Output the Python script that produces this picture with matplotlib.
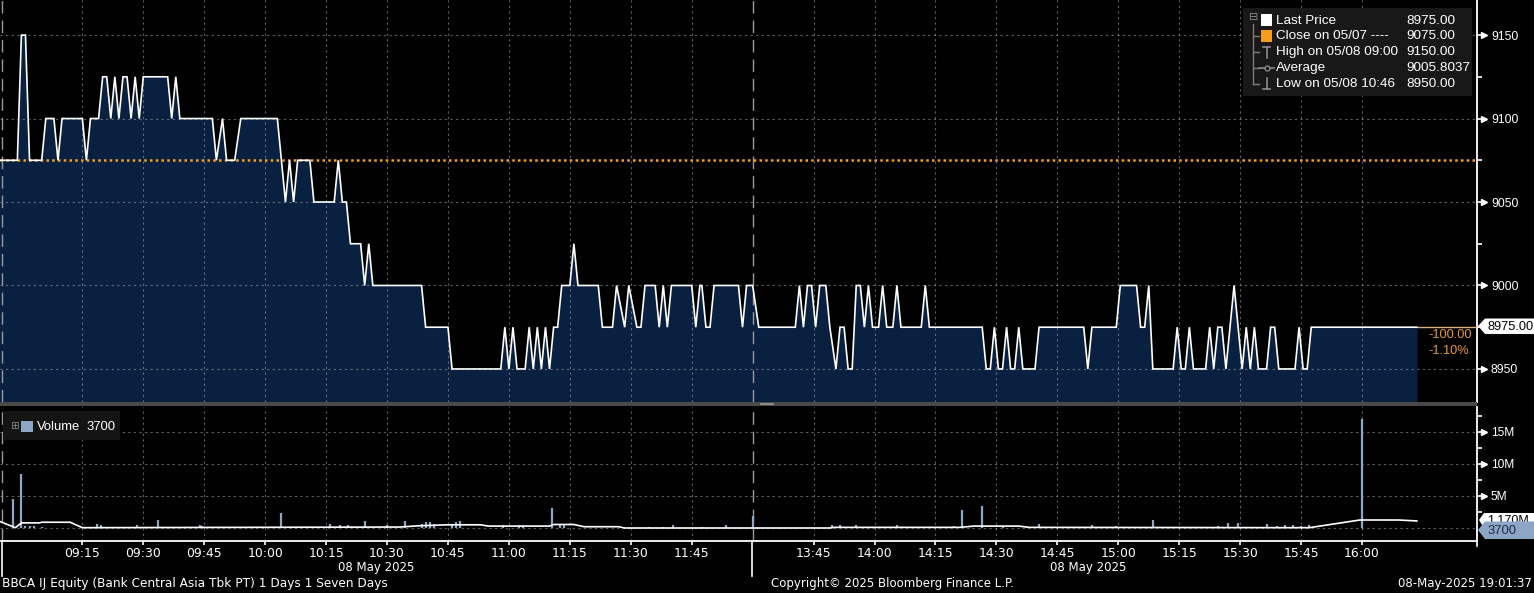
import matplotlib
matplotlib.use("Agg")
import matplotlib.pyplot as plt
from matplotlib import font_manager as fm
from matplotlib.patches import Rectangle, Polygon
from matplotlib.lines import Line2D
from matplotlib.transforms import blended_transform_factory as blend

W, H = 1534, 593

# ---------------- data (minutes of trading time after 09:00, lunch removed) ----------------
tick_minutes = [15, 30, 45, 60, 75, 90, 105, 120, 135, 150, 165,
                195, 210, 225, 240, 255, 270, 285, 300, 315, 330]
tick_labels = ["09:15", "09:30", "09:45", "10:00", "10:15", "10:30", "10:45",
               "11:00", "11:15", "11:30", "11:45",
               "13:45", "14:00", "14:15", "14:30", "14:45", "15:00", "15:15",
               "15:30", "15:45", "16:00"]
session_break = 180

price_t = [-6, -1, 0, 1, 2, 5, 6, 8, 9, 10, 15, 16, 17, 19, 20, 21, 22, 23, 24, 25,
           26, 27, 28, 29, 30, 36, 37, 38, 39, 47, 48, 49.5, 50.5, 52.5, 54, 63, 65, 66, 67, 68,
           71, 72, 77, 78, 79, 80, 81, 83.5, 84.5, 85.5, 86.5, 98.5, 99.5, 105, 106, 118, 119, 120, 121, 122,
           124, 125, 126, 127, 128, 129, 130, 131, 132, 133, 135, 136, 137, 142, 143, 145.5, 146.5, 148.5, 149.5, 151.5,
           152.5, 153.5, 156, 157, 158, 159, 160, 165, 166, 167, 167.5, 168.5, 169.5, 170.5, 176.5, 177.5, 178.5, 180,
           181.5, 190.5, 191.5, 192.5, 193.5, 194.5, 195.5, 196.5, 198, 199, 200.5, 201.5, 202.5, 203.5, 204.5, 205.5,
           206.5, 207.5, 208.5, 209.5, 211, 212, 213, 214.5, 215.5, 216.5, 221.5, 222.5, 223.5, 236.5, 237.5, 238.5,
           239.5, 240.5, 241.5, 242.5, 243.5, 244.5, 245.5, 246.5, 249.5, 250.5, 261.5, 262.5, 263.5, 269.5, 270.5, 274.5,
           275.5, 276.5, 277.5, 278.5, 283.5, 284.5, 285.5, 286.5, 287.5, 288.5, 291.5, 292.5, 293.5, 294.5, 295.5, 296.5,
           298.5, 300.5, 301.5, 302.5, 303.5, 304.5, 306.5, 307.5, 308.5, 309.5, 313.5, 314.5, 315.5, 316.5, 317.5, 343.5]
price_v = [9075, 9075, 9150, 9150, 9075, 9075, 9100, 9100, 9075, 9100, 9100, 9075, 9100, 9100, 9125, 9125, 9100, 9125, 9100, 9125,
           9125, 9100, 9125, 9100, 9125, 9125, 9100, 9125, 9100, 9100, 9075, 9100, 9075, 9075, 9100, 9100, 9050, 9075, 9050, 9075,
           9075, 9050, 9050, 9075, 9050, 9050, 9025, 9025, 9000, 9025, 9000, 9000, 8975, 8975, 8950, 8950, 8975, 8950, 8975, 8950,
           8950, 8975, 8950, 8975, 8950, 8975, 8950, 8975, 8975, 9000, 9000, 9025, 9000, 9000, 8975, 8975, 9000, 8975, 9000, 8975,
           8975, 9000, 9000, 8975, 9000, 8975, 9000, 9000, 8975, 9000, 9000, 8975, 8975, 9000, 9000, 8975, 9000, 9000,
           8975, 8975, 9000, 8975, 9000, 9000, 8975, 9000, 9000, 8975, 8950, 8975, 8975, 8950, 8950, 9000,
           9000, 8975, 9000, 8975, 8975, 9000, 8975, 8975, 9000, 8975, 8975, 9000, 8975, 8975, 8950, 8950,
           8975, 8950, 8950, 8975, 8950, 8950, 8975, 8950, 8950, 8975, 8975, 8950, 8975, 8975, 9000, 9000,
           8975, 8975, 9000, 8950, 8950, 8975, 8950, 8950, 8975, 8950, 8950, 8975, 8950, 8975, 8975, 8950,
           9000, 8950, 8975, 8950, 8975, 8950, 8950, 8975, 8975, 8950, 8950, 8975, 8950, 8950, 8975, 8975]

prev_close = 9075
last_price = 8975
price_ticks = [8950, 9000, 9050, 9100, 9150]
price_minor = [8975, 9025, 9075, 9125]

vol_t = [-2, 0, 1, 2, 3, 5, 18.5, 19.5, 28.5, 33.5, 39, 44, 44.5, 64, 76, 78.5, 80.5, 84.5, 90, 94.5,
         98.5, 99.5, 100.5, 101.5, 106, 107, 108, 118.5, 122.5, 123.5, 130.5, 132.5, 133.5, 154.5, 158, 160.5,
         167.5, 173.5, 180, 199.5, 201.5, 205.5, 215.5, 229.5, 231.5, 236.5, 241.5, 250.5, 263.5, 265.5, 269.5,
         278.5, 280.5, 294.5, 297, 299.5, 306.5, 309, 311, 313, 315, 317, 330]
vol_m = [4.6, 8.4, 0.3, 0.3, 0.3, 0.2, 0.6, 0.5, 0.4, 1.3, 0.2, 0.4, 0.3, 2.4, 0.7, 0.5, 0.4, 1.1, 0.4, 1.1,
         0.6, 1.0, 1.0, 0.7, 0.6, 0.9, 1.1, 0.4, 0.5, 0.5, 3.1, 0.4, 0.4, 0.2, 0.2, 0.4,
         0.15, 0.5, 1.8, 0.5, 0.5, 0.5, 0.4, 0.35, 2.8, 3.4, 0.2, 0.6, 0.4, 0.2, 0.3,
         1.25, 0.2, 0.3, 0.8, 0.8, 0.7, 0.3, 0.4, 0.4, 0.3, 0.4, 17.1]
vol_avg_t = [-6, -1.5, 0, 4.5, 5, 12, 15, 93, 98, 105, 113, 115, 130, 131, 136, 138.5, 147, 148.5,
             199, 200, 231, 234.5, 245.5, 248, 317, 329.5, 339, 343.5]
vol_avg_m = [1.2, 0.05, 0.8, 0.8, 0.9, 0.9, 0.05, 0.15, 0.35, 0.5, 0.5, 0.3, 0.3, 0.55, 0.55, 0.2, 0.2, 0.0,
             0.0, 0.1, 0.1, 0.3, 0.3, 0.1, 0.05, 1.25, 1.25, 1.1]
vol_ticks = [0, 5, 10, 15]
vol_tick_labels = ["", "5M", "10M", "15M"]
vol_minor = [2.5, 7.5, 12.5, 17.5]

legend_labels = ["Last Price", "Close on 05/07 ----", "High on 05/08 09:00", "Average", "Low on 05/08 10:46"]
legend_values = ["8975.00", "9075.00", "9150.00", "9005.8037", "8950.00"]

# ---------------- fonts ----------------
avail = {f.name for f in fm.fontManager.ttflist}
NARROW = "Liberation Sans Narrow" if "Liberation Sans Narrow" in avail else "DejaVu Sans"
NSCALE = 1.0 if NARROW == "Liberation Sans Narrow" else 0.74
REG = "Liberation Sans" if "Liberation Sans" in avail else "DejaVu Sans"
RSCALE = 1.0 if REG == "Liberation Sans" else 0.9

# ---------------- colours ----------------
BG = "#000000"
FILL = "#0a2040"
ORANGE = "#f5a025"
GRID = "#a0a0a0"
VOLC = "#8ea6c6"

XMIN, XMAX = -5.27, 358.3
PY0, PY1 = 8930.2, 9171.0
VY0, VY1 = -2.03, 18.9

fig = plt.figure(figsize=(W / 100, H / 100), dpi=100, facecolor=BG)


def fx(x):
    return x / W


def fy(y):
    return 1 - y / H


def ftext(x, y, s, **kw):
    kw.setdefault("color", "white")
    kw.setdefault("va", "center")
    return fig.text(fx(x), fy(y), s, **kw)


def frect(x0, y0, x1, y1, **kw):
    r = Rectangle((fx(x0), fy(y1)), (x1 - x0) / W, (y1 - y0) / H, transform=fig.transFigure, **kw)
    fig.add_artist(r)
    return r


def fline(xs, ys, **kw):
    fig.add_artist(Line2D([fx(x) for x in xs], [fy(y) for y in ys], transform=fig.transFigure, **kw))


def fpoly(pts, **kw):
    p = Polygon([(fx(x), fy(y)) for x, y in pts], closed=True, transform=fig.transFigure, **kw)
    fig.add_artist(p)
    return p


axp = fig.add_axes([0, fy(402), 1477 / W, 402 / H])
axv = fig.add_axes([0, fy(541), 1477 / W, (541 - 407) / H])

for ax in (axp, axv):
    ax.set_facecolor(BG)
    ax.set_xlim(XMIN, XMAX)
    for s in ("top", "left", "bottom"):
        ax.spines[s].set_visible(False)
    ax.spines["right"].set_color("white")
    ax.spines["right"].set_linewidth(1.3)
    ax.yaxis.tick_right()
    for t in tick_minutes:
        ax.axvline(t, color=GRID, lw=0.8, ls=(0, (2, 3)), alpha=0.6, zorder=2)
    ax.axvline(session_break, color="#9a9a9a", lw=1.0, ls=(0, (9, 5)), zorder=2)
    ax.axvline(XMIN + 0.45, color="#9a9a9a", lw=1.0, ls=(0, (9, 5)), zorder=2)

# ---------------- price panel ----------------
axp.set_ylim(PY0, PY1)
axp.fill_between(price_t, price_v, PY0 - 50, color=FILL, lw=0, zorder=1)
for p in price_ticks:
    axp.axhline(p, color=GRID, lw=0.8, ls=(0, (2, 3)), alpha=0.6, zorder=2)
axp.axhline(prev_close, color=ORANGE, lw=1.8, ls=(0, (1, 1.3)), zorder=3)
axp.plot(price_t, price_v, color="white", lw=1.2, zorder=4, solid_joinstyle="miter")
axp.hlines(last_price, price_t[-1], XMAX, color="#d9b27c", lw=1.0, zorder=3)
axp.set_xticks([])
axp.set_yticks(price_ticks)
axp.set_yticklabels([str(p) for p in price_ticks], family=REG, fontsize=8.8 * RSCALE, color="white")
axp.set_yticks(price_minor, minor=True)
axp.tick_params(axis="y", which="major", length=5, width=1.2, color="white", pad=5)
axp.tick_params(axis="y", which="minor", length=3.5, width=1.2, color="white")
tr = blend(axp.transAxes, axp.transData)
axp.plot([1.0045] * len(price_ticks), price_ticks, ls="none", marker=">", ms=4.5, color="white",
         transform=tr, clip_on=False, zorder=6)

# ---------------- volume panel ----------------
axv.set_ylim(VY0, VY1)
for v in vol_ticks:
    axv.axhline(v, color=GRID, lw=0.8, ls=(0, (2, 3)), alpha=0.6, zorder=2)
axv.vlines(vol_t, 0, vol_m, color=VOLC, lw=1.6, zorder=3)
axv.plot(vol_avg_t, vol_avg_m, color="white", lw=1.2, zorder=4)
axv.spines["bottom"].set_visible(True)
axv.spines["bottom"].set_color("white")
axv.spines["bottom"].set_linewidth(1.3)
axv.set_yticks(vol_ticks[1:])
axv.set_yticklabels(vol_tick_labels[1:], family=REG, fontsize=8.6 * RSCALE, color="white")
axv.set_yticks(vol_minor, minor=True)
axv.tick_params(axis="y", which="major", length=5, width=1.2, color="white", pad=5)
axv.tick_params(axis="y", which="minor", length=3.5, width=1.2, color="white")
trv = blend(axv.transAxes, axv.transData)
axv.plot([1.0045] * 3, vol_ticks[1:], ls="none", marker=">", ms=4.5, color="white",
         transform=trv, clip_on=False, zorder=6)
axv.set_xticks(tick_minutes)
axv.set_xticklabels(tick_labels, family=NARROW, fontsize=12 * NSCALE, color="white")
axv.tick_params(axis="x", length=3, width=1.2, color="white", pad=1.5)

# ---------------- panel separator ----------------
frect(0, 402, 1477, 406, facecolor="#4a4a4a", edgecolor="none", zorder=5)
frect(760, 403, 774, 405, facecolor="#8a8a8a", edgecolor="none", zorder=6)

# ---------------- price legend ----------------
frect(1243, 8, 1472, 96, facecolor="#181818", edgecolor="none", zorder=7)
rows_y = [20.5, 36, 52, 68, 84]
fline([1253, 1253], [24, 84], color="#7a7a7a", lw=1, zorder=8)
for yy in rows_y[1:]:
    fline([1253, 1259], [yy, yy], color="#7a7a7a", lw=1, zorder=8)
ftext(1253.5, 17.5, "\u229f", family="DejaVu Sans", fontsize=8, color="#8a8a8a", ha="center", zorder=9)
frect(1261, 14, 1272, 26, facecolor="white", edgecolor="none", zorder=9)
frect(1261, 30, 1272, 42, facecolor="#f59b1e", edgecolor="none", zorder=9)
# high icon
fline([1263, 1270], [47, 47], color="#8a8a8a", lw=1.2, zorder=9)
fline([1266.5, 1266.5], [47, 58], color="#8a8a8a", lw=1.2, zorder=9)
# average icon
fline([1259, 1274], [68, 68], color="#8a8a8a", lw=1.2, zorder=9)
fig.add_artist(Line2D([fx(1266.5)], [fy(68)], transform=fig.transFigure, marker="o", ms=3.5,
                      mfc="#181818", mec="#8a8a8a", ls="none", zorder=10))
# low icon
fline([1266.5, 1266.5], [78, 89], color="#8a8a8a", lw=1.2, zorder=9)
fline([1263, 1270], [89, 89], color="#8a8a8a", lw=1.2, zorder=9)
for yy, lab, val in zip(rows_y, legend_labels, legend_values):
    ftext(1276, yy, lab, family=REG, fontsize=9.7 * RSCALE, zorder=9)
    ftext(1406, yy, val, family=REG, fontsize=9.7 * RSCALE, zorder=9)

# ---------------- last price tag + change ----------------
fpoly([(1478, 326), (1485, 318.5), (1534, 318.5), (1534, 334), (1485, 334)],
      facecolor="white", edgecolor="none", zorder=9)
ftext(1487, 326.5, "8975.00", family=REG, fontsize=9.2 * RSCALE, color="black", zorder=10)
ftext(1428, 335, "-100.00", family=REG, fontsize=9.2 * RSCALE, color="#e89a35", zorder=9)
ftext(1428, 351, "-1.10%", family=REG, fontsize=9.2 * RSCALE, color="#e89a35", zorder=9)

# ---------------- volume legend + tags ----------------
frect(3, 411, 120, 440, facecolor="#141414", edgecolor="none", zorder=7)
ftext(14, 426, "\u229e", family="DejaVu Sans", fontsize=7.5, color="#8a8a8a", ha="center", zorder=9)
frect(21, 421, 33, 432, facecolor=VOLC, edgecolor="none", zorder=9)
ftext(37, 427, "Volume", family=REG, fontsize=9.4 * RSCALE, zorder=9)
ftext(86, 427, "3700", family=REG, fontsize=9.4 * RSCALE, zorder=9)

fpoly([(1479, 520), (1484, 513), (1534, 513), (1534, 528), (1484, 528)],
      facecolor="white", edgecolor="none", zorder=9)
ftext(1487, 520.5, "1.170M", family=REG, fontsize=9 * RSCALE, color="black", zorder=10)
fpoly([(1478, 530), (1485, 521.5), (1534, 521.5), (1534, 539), (1485, 539)],
      facecolor=VOLC, edgecolor="none", zorder=11)
ftext(1487, 530.5, "3700", family=REG, fontsize=9.4 * RSCALE, color="#1c2b44", zorder=12)

# ---------------- axis footer ----------------
fline([1.5, 1.5], [541, 576], color="white", lw=1.2, zorder=8)
fline([752, 752], [541, 576], color="white", lw=1.2, zorder=8)
fline([1477, 1477], [541, 546], color="white", lw=1.2, zorder=8)
ftext(376, 567, "08 May 2025", family=NARROW, fontsize=11.5 * NSCALE, ha="center")
ftext(1088, 567, "08 May 2025", family=NARROW, fontsize=11.5 * NSCALE, ha="center")
ftext(2, 584, "BBCA IJ Equity (Bank Central Asia Tbk PT) 1 Days 1 Seven Days", family=NARROW,
      fontsize=11.8 * NSCALE, ha="left")
ftext(771, 584, "Copyright\u00a9 2025 Bloomberg Finance L.P.", family=NARROW, fontsize=11.5 * NSCALE, ha="left")
ftext(1532, 584, "08-May-2025 19:01:37", family=NARROW, fontsize=11.5 * NSCALE, ha="right")

fig.savefig("out.png", dpi=100, facecolor=BG)
